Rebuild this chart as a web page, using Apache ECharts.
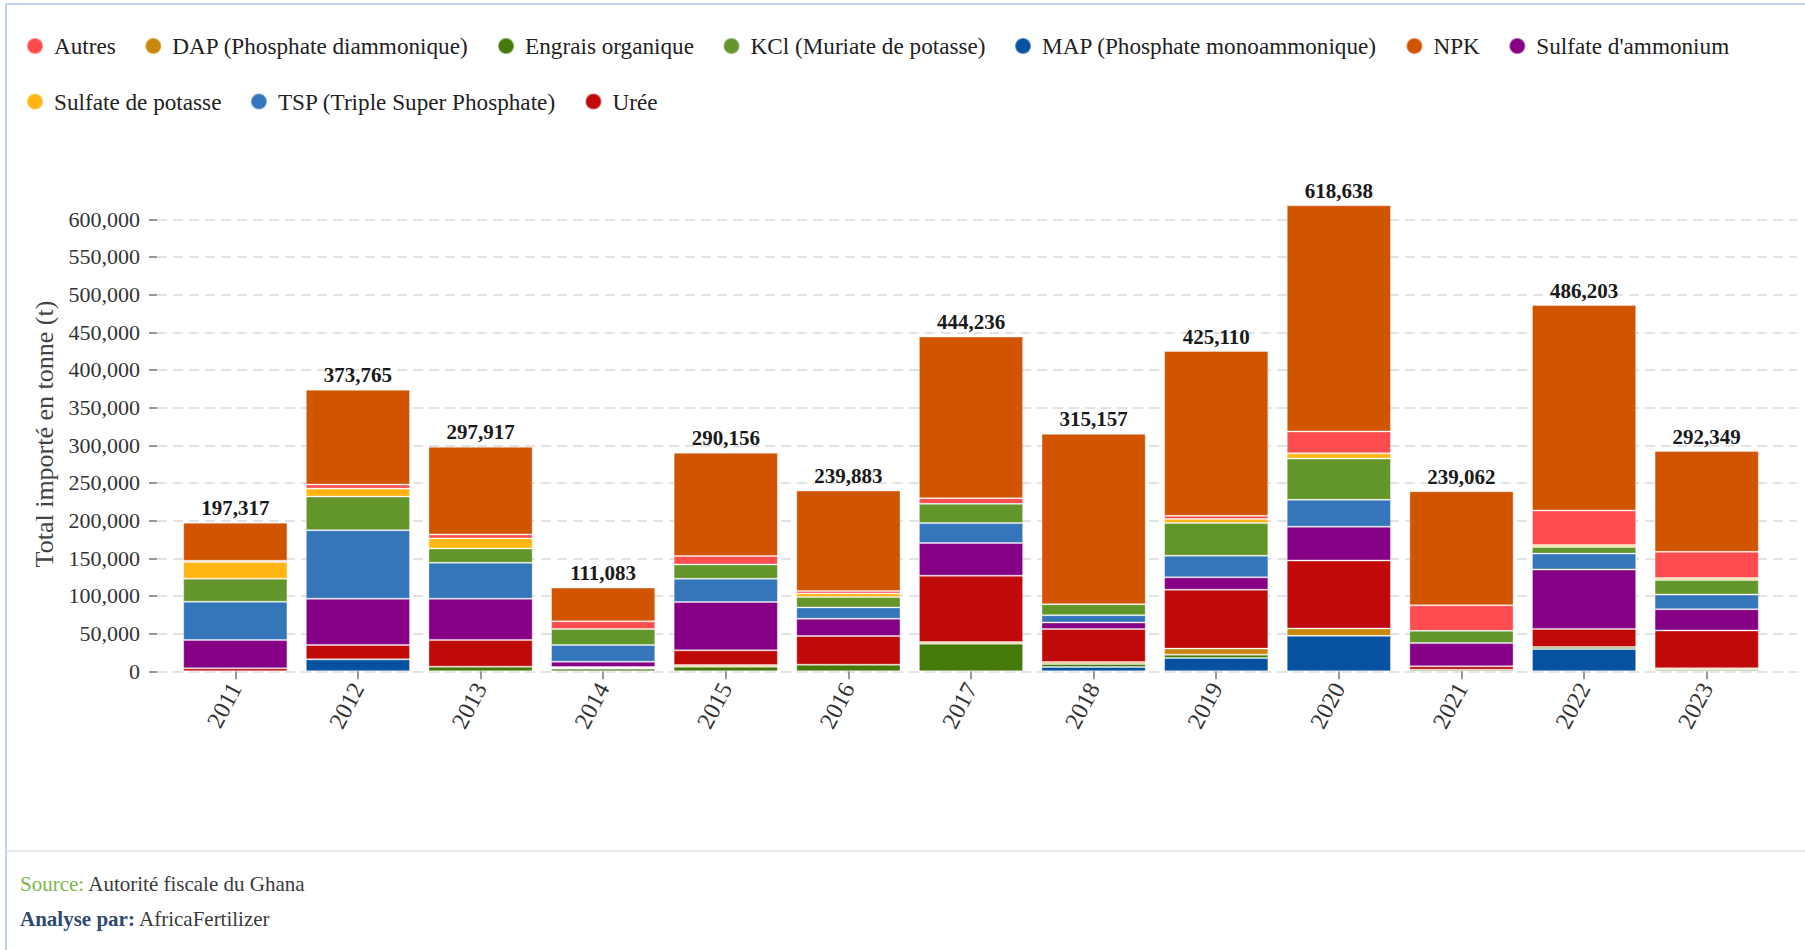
<!DOCTYPE html>
<html>
<head>
<meta charset="utf-8">
<title>Importations d'engrais au Ghana</title>
<script src="https://cdn.jsdelivr.net/npm/echarts@6/dist/echarts.min.js"></script>
<style>
  html, body { margin: 0; padding: 0; background: #fff; }
  #chart { width: 1805px; height: 950px; }
</style>
</head>
<body>
<div id="chart"></div>
<script>
const years = ['2011', '2012', '2013', '2014', '2015', '2016', '2017', '2018', '2019', '2020', '2021', '2022', '2023'];

// tonnes par produit (de bas en haut de la pile)
const map = [0, 15900, 0, 0, 0, 0, 0, 5700, 17700, 47100, 0, 29500, 0];
const engraisOrganique = [0, 0, 6200, 3500, 6200, 8800, 36700, 4000, 4400, 0, 2200, 2600, 2000];
const dap = [0, 0, 0, 1300, 2200, 0, 2200, 2600, 8000, 9700, 0, 0, 2000];
const uree = [4000, 19000, 35400, 1000, 19400, 38000, 88000, 43700, 78200, 90300, 4400, 24200, 50200];
const sulfateAmmonium = [37600, 61400, 54800, 7000, 64100, 23000, 43300, 8800, 16400, 44900, 30800, 78800, 28200];
const tsp = [50800, 91000, 47700, 22100, 30900, 15000, 26500, 9700, 28700, 35700, 0, 21100, 19400];
const kcl = [30500, 44600, 19000, 21200, 19000, 13700, 25600, 14600, 43300, 54600, 16300, 8800, 19400];
const sulfatePotasse = [22100, 10600, 13300, 0, 0, 4900, 0, 0, 5300, 7000, 0, 2600, 2600];
const autres = [1800, 5300, 5300, 10200, 11100, 3100, 7500, 0, 4400, 29100, 33900, 45800, 34800];
const npk = [50517, 125965, 116217, 44783, 137256, 133383, 214436, 226057, 218710, 300238, 151462, 272803, 133749];

const legendOrder = ['Autres', 'DAP (Phosphate diammonique)', 'Engrais organique', 'KCl (Muriate de potasse)',
  'MAP (Phosphate monoammonique)', 'NPK', "Sulfate d'ammonium", 'Sulfate de potasse',
  'TSP (Triple Super Phosphate)', 'Urée'];

const stack = [
  { name: 'MAP (Phosphate monoammonique)', data: map, color: '#0752A0' },
  { name: 'Engrais organique', data: engraisOrganique, color: '#457A0B' },
  { name: 'DAP (Phosphate diammonique)', data: dap, color: '#C8880A' },
  { name: 'Urée', data: uree, color: '#C00A0A' },
  { name: "Sulfate d'ammonium", data: sulfateAmmonium, color: '#850085' },
  { name: 'TSP (Triple Super Phosphate)', data: tsp, color: '#3575BA' },
  { name: 'KCl (Muriate de potasse)', data: kcl, color: '#63962A' },
  { name: 'Sulfate de potasse', data: sulfatePotasse, color: '#FFB612' },
  { name: 'Autres', data: autres, color: '#FF4D4F' },
  { name: 'NPK', data: npk, color: '#D15400' }
];

const totals = years.map((y, i) => stack.reduce((s, d) => s + d.data[i], 0));
const fmt = v => Number(v).toLocaleString('en-US');
const serif = "'Liberation Serif', serif";

const chart = echarts.init(document.getElementById('chart'), null, { renderer: 'svg' });

chart.setOption({
  animation: false,
  textStyle: { fontFamily: serif },
  legend: {
    data: legendOrder,
    left: 26,
    top: 32.5,
    right: 10,
    icon: 'circle',
    itemWidth: 16,
    itemHeight: 16,
    itemGap: 28.5,
    padding: 0,
    textStyle: { fontFamily: serif, fontSize: 23.2, lineHeight: 27, color: '#222', padding: [0, 0, 0, 6] }
  },
  grid: [
    { left: 174, right: 37, top: 181.6, bottom: 278.7 },
    { left: 157, right: 8, top: 219.3, bottom: 278.7 }
  ],
  xAxis: [
    {
      type: 'category',
      gridIndex: 0,
      data: years,
      axisLine: { show: false },
      axisTick: { show: true, alignWithLabel: true, length: 8, lineStyle: { color: '#999', width: 2 } },
      axisLabel: { rotate: 62, margin: 13, fontSize: 24, color: '#333', fontFamily: serif }
    },
    { type: 'category', gridIndex: 1, data: years, show: false }
  ],
  yAxis: [
    { type: 'value', gridIndex: 0, min: 0, max: 650000, show: false },
    {
      type: 'value',
      gridIndex: 1,
      min: 0,
      max: 600000,
      interval: 50000,
      axisLine: { show: false },
      axisTick: { show: true, length: 8, lineStyle: { color: '#999', width: 2 } },
      axisLabel: { margin: 17, fontSize: 22, color: '#333', fontFamily: serif, formatter: v => fmt(v) },
      splitLine: { show: true, lineStyle: { color: '#e3e3e3', width: 2, type: [10, 6] } }
    }
  ],
  graphic: [
    { type: 'line', shape: { x1: 6, y1: 4, x2: 1805, y2: 4 }, style: { stroke: '#c3d0ee', lineWidth: 2 } },
    { type: 'line', shape: { x1: 6, y1: 4, x2: 6, y2: 950 }, style: { stroke: '#c3d0ee', lineWidth: 2 } },
    { type: 'line', shape: { x1: 7, y1: 851, x2: 1805, y2: 851 }, style: { stroke: '#e8e9f0', lineWidth: 2 } },
    {
      type: 'text', x: 44, y: 434, rotation: Math.PI / 2,
      style: { text: 'Total importé en tonne (t)', font: "26px 'Liberation Serif', serif", fill: '#444', align: 'center', verticalAlign: 'middle' }
    },
    {
      type: 'text', left: 20, top: 873,
      style: {
        text: '{g|Source:} Autorité fiscale du Ghana',
        font: "21px 'Liberation Serif', serif", fill: '#3a3a3a',
        rich: { g: { fill: '#7DBA4A', font: "21px 'Liberation Serif', serif" } }
      }
    },
    {
      type: 'text', left: 20, top: 908,
      style: {
        text: '{b|Analyse par:} AfricaFertilizer',
        font: "21px 'Liberation Serif', serif", fill: '#3a3a3a',
        rich: { b: { fill: '#2F4A6E', font: "bold 21px 'Liberation Serif', serif" } }
      }
    }
  ],
  series: stack.map((s, k) => ({
    name: s.name,
    type: 'bar',
    stack: 'total',
    xAxisIndex: 0,
    yAxisIndex: 0,
    barCategoryGap: '15%',
    data: s.data.map(v => (v === 0 ? null : v)),
    itemStyle: { color: s.color, borderColor: 'rgba(255,255,255,0.35)', borderWidth: 1 },
    label: k === stack.length - 1 ? {
      show: true,
      position: 'top',
      distance: 4,
      fontFamily: serif,
      fontSize: 21,
      fontWeight: 'bold',
      color: '#1a1a1a',
      formatter: p => fmt(totals[p.dataIndex])
    } : { show: false }
  }))
});
</script>
</body>
</html>
